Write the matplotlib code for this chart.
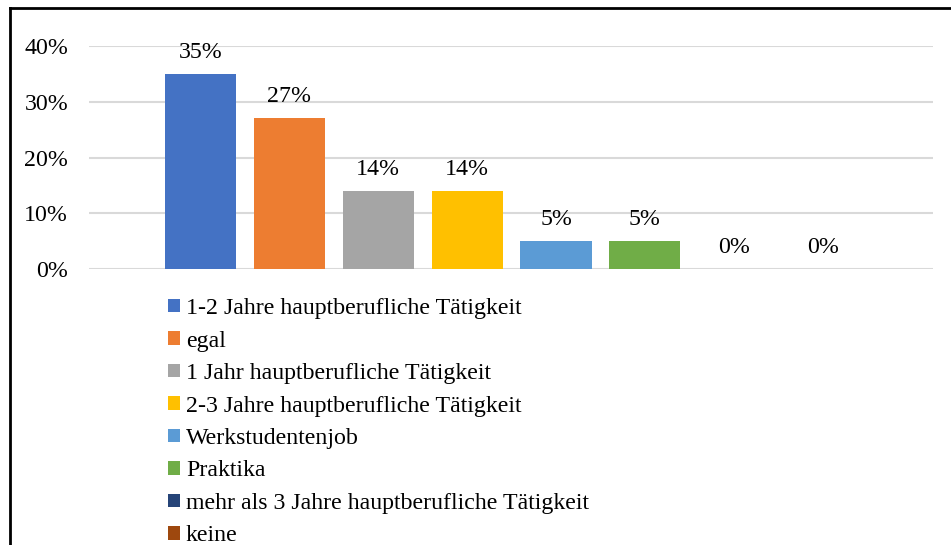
import matplotlib.pyplot as plt
from matplotlib.patches import Patch
from matplotlib.lines import Line2D
from matplotlib.ticker import PercentFormatter

plt.rcParams['font.family'] = ['Liberation Serif', 'DejaVu Serif']

kategorije = ["1-2 Jahre hauptberufliche Tätigkeit", "egal",
              "1 Jahr hauptberufliche Tätigkeit", "2-3 Jahre hauptberufliche Tätigkeit",
              "Werkstudentenjob", "Praktika",
              "mehr als 3 Jahre hauptberufliche Tätigkeit", "keine"]
vrijednosti = [0.35, 0.27, 0.14, 0.14, 0.05, 0.05, 0.0, 0.0]
boje = ["#4472C4", "#ED7D31", "#A5A5A5", "#FFC000",
        "#5B9BD5", "#70AD47", "#264478", "#9E480E"]

fs = 17.2

fig = plt.figure(figsize=(9.51, 5.45), dpi=100)
ax = fig.add_axes([0.0936, 0.5064, 0.8874, 0.4092])

x = list(range(len(vrijednosti)))
ax.bar(x, vrijednosti, width=0.8, color=boje, zorder=3)

for xi, v in zip(x, vrijednosti):
    ax.annotate(f"{v:.0%}", (xi, v), xytext=(0, 8), textcoords="offset points",
                ha="center", va="bottom", fontsize=fs)

ax.set_ylim(0, 0.4)
ax.set_xlim(-1.254, 8.24)
ax.set_yticks([0, 0.1, 0.2, 0.3, 0.4])
ax.yaxis.set_major_formatter(PercentFormatter(1.0, decimals=0))
ax.tick_params(axis="y", length=0, labelsize=fs, pad=15)
ax.set_xticks([])
ax.grid(axis="y", color="#D9D9D9", linewidth=1.5, zorder=0)
for s in ax.spines.values():
    s.set_visible(False)

ruke = [Patch(facecolor=b, edgecolor="none") for b in boje]
fig.legend(ruke, kategorije, loc="upper left", bbox_to_anchor=(0.1767, 0.453),
           frameon=False, fontsize=fs, handlelength=0.5, handleheight=0.5,
           handletextpad=0.25, labelspacing=0.48, borderaxespad=0, borderpad=0)

# okvir slike
fig.add_artist(Line2D([10 / 951, 1], [1 - 8 / 545, 1 - 8 / 545], color="black", linewidth=2))
fig.add_artist(Line2D([10 / 951, 10 / 951], [0, 1 - 8 / 545], color="black", linewidth=2))

fig.savefig("out.png", dpi=100)
